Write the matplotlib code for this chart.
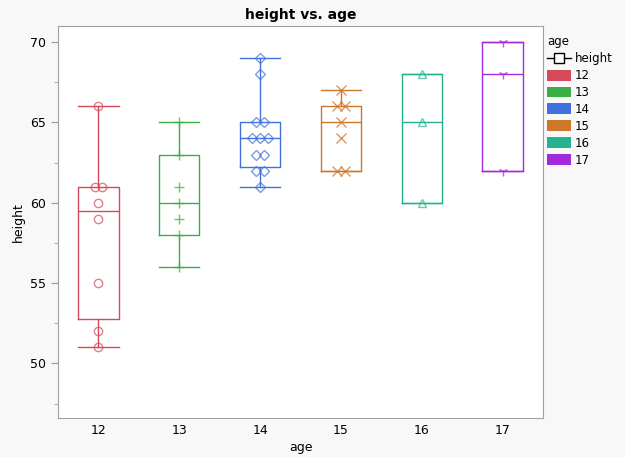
import numpy as np
import matplotlib
matplotlib.use("Agg")
import matplotlib.pyplot as plt
from matplotlib.patches import Patch
from matplotlib.lines import Line2D

# Big Class: heights by age
ages = [12, 13, 14, 15, 16, 17]
heights = {
    12: [59, 61, 55, 66, 52, 60, 61, 51],
    13: [60, 61, 56, 65, 63, 58, 59],
    14: [61, 62, 65, 63, 62, 63, 64, 65, 64, 68, 64, 69],
    15: [62, 64, 67, 65, 66, 62, 66],
    16: [65, 60, 68],
    17: [62, 68, 70],
}
colors = ["#D34A5A", "#3DAE45", "#4371DB", "#CE7629", "#26B28E", "#A02BDE"]
markers = ["o", "+", "D", "x", "^", "1"]
y_ticks = [50, 55, 60, 65, 70]

plt.rcParams['font.family'] = ['DejaVu Sans']

fig = plt.figure(figsize=(6.25, 4.57), dpi=100, facecolor="#F8F8F8")
ax = fig.add_axes([58 / 625, 1 - 418 / 457, 485 / 625, 392 / 457])
ax.set_facecolor("white")

# ── box stats (JMP style quantiles, 1.5 IQR whiskers) ──
for i, age in enumerate(ages):
    v = np.array(sorted(heights[age]), dtype=float)
    q1, med, q3 = np.quantile(v, [0.25, 0.5, 0.75], method="weibull")
    iqr = q3 - q1
    lo = v[v >= q1 - 1.5 * iqr].min()
    hi = v[v <= q3 + 1.5 * iqr].max()
    stats = [dict(med=med, q1=q1, q3=q3, whislo=lo, whishi=hi, fliers=[])]
    c = colors[i]
    ax.bxp(stats, positions=[age], widths=0.5, showfliers=False,
           boxprops=dict(color=c, lw=1), medianprops=dict(color=c, lw=1),
           whiskerprops=dict(color=c, lw=1), capprops=dict(color=c, lw=1),
           capwidths=0.5, manage_ticks=False)

    # points, duplicates placed side by side
    vals, counts = np.unique(v, return_counts=True)
    xs, ys = [], []
    for val, k in zip(vals, counts):
        for j in range(k):
            xs.append(age + (j - (k - 1) / 2) * 0.095)
            ys.append(val)
    m = markers[i]
    if m in ("o", "D", "^"):
        ax.plot(xs, ys, m, ms=6 if m != "D" else 5.5, mfc="none", mec=c,
                mew=1, alpha=0.7, zorder=3)
    else:
        ax.plot(xs, ys, m, ms=7, color=c, mew=1, alpha=0.75, zorder=3)

ax.set_xlim(11.5, 17.5)
ax.set_ylim(46.6, 71)
ax.set_xticks(ages)
ax.set_yticks(y_ticks)
ax.set_yticks([47.5, 52.5, 57.5, 62.5, 67.5], minor=True)
ax.tick_params(axis="x", length=0, labelsize=9, pad=4)
ax.tick_params(axis="y", which="major", length=5, color="#999999", labelsize=9)
ax.tick_params(axis="y", which="minor", length=3, color="#999999")
for s in ax.spines.values():
    s.set_color("#A0A0A0")

ax.set_xlabel("age", fontsize=9, labelpad=3)
ax.set_ylabel("height", fontsize=9, labelpad=4)
ax.set_title("height vs. age", fontsize=10, fontweight="bold", pad=5)

handles = [Line2D([0], [0], color="black", lw=1, marker="s", ms=7,
                  mfc="white", mec="black", mew=1)]
handles += [Patch(facecolor=c, edgecolor="none") for c in colors]
labels = ["height"] + [str(a) for a in ages]
leg = fig.legend(handles, labels, title="age", loc="upper left",
                 bbox_to_anchor=(545 / 625, 1 - 33 / 457), frameon=False,
                 fontsize=8.5, title_fontsize=8.5, handlelength=2.0,
                 handleheight=1.05, handletextpad=0.35, labelspacing=0.33,
                 borderaxespad=0, borderpad=0.2)
leg._legend_box.align = "left"

fig.savefig("out.png", dpi=100, facecolor=fig.get_facecolor())
